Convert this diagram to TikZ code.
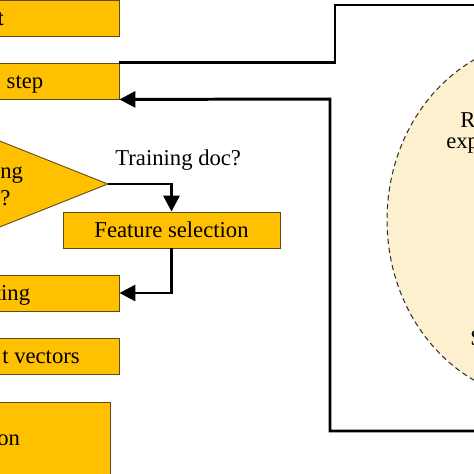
\documentclass[tikz,border=0pt]{standalone}
\usepackage{fontspec}
\setmainfont{Liberation Serif}
\usepackage{tikz}
\usetikzlibrary{shapes.geometric,arrows.meta}
\definecolor{boxgold}{RGB}{255,192,0}
\definecolor{boxedge}{RGB}{95,75,25}
\definecolor{cream}{RGB}{253,240,206}
\tikzset{
  font={\fontsize{12.9pt}{15.5pt}\selectfont}}

\begin{document}
\begin{tikzpicture}[x=0.02cm,y=-0.02cm]
\tikzstyle{every node}+=[inner sep=0pt]
\tikzstyle{stagebox}=[draw=boxedge, fill=boxgold, line width=0.5pt, minimum height=0.72cm, text height=0.8em, text depth=0pt]
\tikzstyle{flow}=[black, line width=1.7pt]
\tikzstyle{flowarrow}=[flow, -{Triangle[length=0.32cm,width=0.32cm]}]
\useasboundingbox (0,0) rectangle (474,474);
\clip (0,0) rectangle (474,474);
\node [draw=black!80, densely dashed, line width=0.6pt, fill=cream, ellipse, minimum width=6.4cm, minimum height=7.2cm] (expl) at (547,220) {};
\node [anchor=base west] (rtxt) at (460,127) {R};
\node [anchor=base west] (exptxt) at (446,148) {exp};
\node [anchor=base west] (stxt) at (470,345) {S};
\node [stagebox, minimum width=4.76cm] (inp) at (0,18) {\bfseries t};
\node [stagebox, minimum width=3.76cm] (stepbox) at (25,81) {step};
\node [draw=boxedge, fill=boxgold, line width=0.5pt, diamond, minimum width=5.92cm, minimum height=2.36cm] (doccheck) at (-40,184) {};
\node [anchor=base west] (ngtxt) at (0,178) {ng};
\node [anchor=base west] (qtxt) at (0,205) {?};
\node [anchor=base west] (trdoc) at (115,165) {Training doc?};
\node [stagebox, minimum width=4.34cm] (featsel) at (171.5,230) {Feature selection};
\node [stagebox, minimum width=4.26cm] (wgt) at (12.5,293) {ting};
\node [stagebox, minimum width=3.12cm] (vecs) at (41,356) {t vectors};
\node [stagebox, minimum width=4.06cm, minimum height=1.47cm] (clf) at (8.6,438.75) {on};
\coordinate (outtop) at (490,5);
\coordinate (inbot) at (490,431);
\draw [flow] (stepbox.north east) -| (335,5) -- (outtop);
\draw [flowarrow] (inbot) -| (330,99) -- (stepbox.south east);
\draw [flowarrow] (doccheck.east) -| (featsel.north);
\draw [flowarrow] (featsel.south) |- (wgt.east);
\end{tikzpicture}
\end{document}
